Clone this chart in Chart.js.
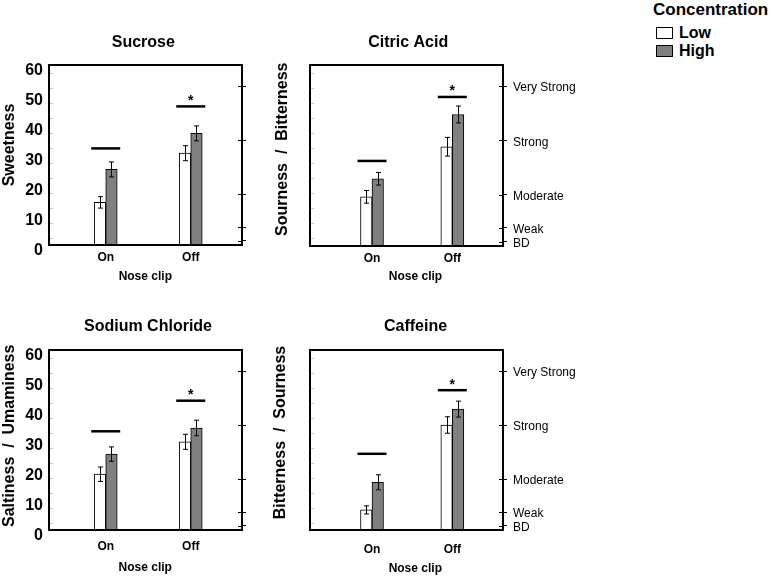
<!DOCTYPE html>
<html>
<head>
<meta charset="utf-8">
<script src="https://cdn.jsdelivr.net/npm/chart.js@4.4.1/dist/chart.umd.min.js"></script>
<style>
  html, body { margin: 0; padding: 0; background: #fff; }
  body { width: 771px; height: 577px; position: relative; overflow: hidden; font-family: "Liberation Sans", Arial, sans-serif; }
  canvas { position: absolute; display: block; }
  .lg { position: absolute; color: #000; font-weight: bold; white-space: nowrap; }
  .sw { position: absolute; box-sizing: border-box; border: 1px solid #000; width: 17px; height: 12px; }
</style>
</head>
<body>
<canvas id="c1" width="260" height="290" style="left:0px;top:0px"></canvas>
<canvas id="c2" width="330" height="290" style="left:260px;top:0px"></canvas>
<canvas id="c3" width="260" height="287" style="left:0px;top:290px"></canvas>
<canvas id="c4" width="330" height="287" style="left:260px;top:290px"></canvas>
<div id="legend"></div>
<script>
// ---------------- DATA ----------------
const categories = ['On', 'Off'];
const seriesNames = ['Low', 'High'];
const legendTitle = 'Concentration';
const xAxisTitle = 'Nose clip';

const leftTickValues = [0, 10, 20, 30, 40, 50, 60];
const gLMSValues = [1.4, 6, 17, 35, 53];
const gLMSLabels = ['BD', 'Weak', 'Moderate', 'Strong', 'Very Strong'];

// Sucrose
const sucroseLow = [14.2, 30.6];
const sucroseLowErr = [1.9, 2.5];
const sucroseHigh = [25.2, 37.2];
const sucroseHighErr = [2.5, 2.5];
const sucroseSig = [32.2, 46.2];
const sucroseStar = ['', '*'];

// Citric Acid
const citricLow = [16.3, 32.9];
const citricLowErr = [2.1, 3.1];
const citricHigh = [22.3, 43.6];
const citricHighErr = [2.1, 2.8];
const citricSig = [28.2, 49.4];
const citricStar = ['', '*'];

// Sodium Chloride
const saltLow = [18.6, 29.4];
const saltLowErr = [2.4, 2.5];
const saltHigh = [25.3, 34.0];
const saltHighErr = [2.4, 2.6];
const saltSig = [32.9, 43.1];
const saltStar = ['', '*'];

// Caffeine
const caffeineLow = [6.7, 35.0];
const caffeineLowErr = [1.35, 2.75];
const caffeineHigh = [15.9, 40.3];
const caffeineHighErr = [2.5, 2.65];
const caffeineSig = [25.4, 46.6];
const caffeineStar = ['', '*'];

// ---------------- STYLE ----------------
const FONT = '"Liberation Sans", Arial, Helvetica, sans-serif';
const LOW_COLOR = '#ffffff';
const HIGH_COLOR = '#808080';
Chart.defaults.font.family = FONT;
Chart.defaults.color = '#000';

function makePanel(id, p) {
  const plugin = {
    id: 'panelDeco' + id,
    afterDatasetsDraw(chart) {
      const ctx = chart.ctx;
      const a = chart.chartArea;
      const ys = chart.scales.y;
      const xs = chart.scales.x;
      ctx.save();
      // faint minor ticks on the inner left side
      ctx.strokeStyle = '#c4c4c4';
      ctx.lineWidth = 1;
      for (let k = 0; k < 12; k++) {
        const py = Math.round(ys.getPixelForValue(2.5 + 5 * k)) + 0.5;
        ctx.beginPath(); ctx.moveTo(a.left + 1, py); ctx.lineTo(a.left + 4, py); ctx.stroke();
      }
      // error bars
      ctx.strokeStyle = '#000';
      ctx.lineWidth = 1;
      const errs = [p.lowErr, p.highErr];
      const vals = [p.low, p.high];
      for (let d = 0; d < 2; d++) {
        const meta = chart.getDatasetMeta(d);
        meta.data.forEach((el, i) => {
          const cx = Math.round(el.x) + 0.5;
          const t = ys.getPixelForValue(vals[d][i] + errs[d][i]);
          const b = ys.getPixelForValue(vals[d][i] - errs[d][i]);
          ctx.beginPath();
          ctx.moveTo(cx, t); ctx.lineTo(cx, b);
          ctx.moveTo(cx - 2.5, t); ctx.lineTo(cx + 2.5, t);
          ctx.moveTo(cx - 2.5, b); ctx.lineTo(cx + 2.5, b);
          ctx.stroke();
        });
      }
      // significance lines and stars
      ctx.lineWidth = 2.5;
      ctx.fillStyle = '#000';
      ctx.font = 'bold 14px ' + FONT;
      ctx.textAlign = 'center';
      ctx.textBaseline = 'alphabetic';
      p.sig.forEach((v, i) => {
        const cx = xs.getPixelForValue(i);
        const py = ys.getPixelForValue(v);
        ctx.beginPath(); ctx.moveTo(cx - 14.5, py); ctx.lineTo(cx + 14.5, py); ctx.stroke();
        if (p.star[i]) ctx.fillText(p.star[i], cx, py - 1.5);
      });
      // frame
      ctx.lineWidth = 2;
      ctx.strokeRect(a.left, a.top, a.right - a.left, a.bottom - a.top);
      // inner part of right gLMS ticks
      ctx.lineWidth = 1;
      const rs = chart.scales.y2;
      rs.ticks.forEach(t => {
        const py = Math.round(rs.getPixelForValue(t.value)) + 0.5;
        ctx.beginPath(); ctx.moveTo(a.right - 4, py); ctx.lineTo(a.right, py); ctx.stroke();
      });
      ctx.restore();
    },
    afterDraw(chart) {
      const ctx = chart.ctx;
      ctx.save();
      ctx.fillStyle = '#000';
      ctx.textAlign = 'center';
      ctx.textBaseline = 'middle';
      ctx.font = 'bold 16px ' + FONT;
      ctx.fillText(p.title, p.titlePos[0], p.titlePos[1]);
      ctx.font = 'bold 12px ' + FONT;
      ctx.fillText(xAxisTitle, p.xTitlePos[0], p.xTitlePos[1]);
      ctx.translate(p.yTitlePos[0], p.yTitlePos[1]);
      ctx.rotate(-Math.PI / 2);
      ctx.font = 'bold 16px ' + FONT;
      ctx.fillText(p.yTitle, 0, 0);
      ctx.restore();
    }
  };

  return new Chart(document.getElementById(id), {
    type: 'bar',
    data: {
      datasets: [
        { label: seriesNames[0], data: p.low.map((v, i) => ({ x: i, y: v })),
          backgroundColor: LOW_COLOR, borderColor: '#000', borderWidth: 1, borderSkipped: false },
        { label: seriesNames[1], data: p.high.map((v, i) => ({ x: i, y: v })),
          backgroundColor: HIGH_COLOR, borderColor: '#000', borderWidth: 1, borderSkipped: false }
      ]
    },
    options: {
      responsive: false,
      animation: false,
      events: [],
      barThickness: 11.5,
      layout: { padding: { top: p.padTop, left: 0, right: 0, bottom: 0 } },
      plugins: { legend: { display: false }, title: { display: false }, tooltip: { enabled: false } },
      scales: {
        x: {
          type: 'linear', offset: false, min: p.xMin, max: p.xMax,
          afterBuildTicks: s => { s.ticks = categories.map((c, i) => ({ value: i })); },
          ticks: { callback: v => categories[Math.round(v)], autoSkip: false, maxRotation: 0,
                   font: { size: 12, weight: 'bold' }, color: '#000', padding: p.xLabelPad },
          grid: { display: false, drawTicks: false }, border: { display: false },
          afterFit: s => { s.height = p.xH; }
        },
        y: {
          type: 'linear', position: 'left', min: 0, max: 60,
          afterBuildTicks: s => { s.ticks = leftTickValues.map(v => ({ value: v })); },
          ticks: { display: p.showLeft, font: { size: 16, weight: 'bold' }, color: '#000', padding: 6, labelOffset: 6 },
          grid: { display: false, drawTicks: false }, border: { display: false },
          afterFit: s => { s.width = p.leftW; }
        },
        y2: {
          type: 'linear', position: 'right', min: 0, max: 60,
          afterBuildTicks: s => { s.ticks = gLMSValues.map(v => ({ value: v })); },
          ticks: { display: p.showRight, callback: (v, i) => gLMSLabels[i], font: { size: 12 },
                   color: '#000', padding: 6, labelOffset: 2, autoSkip: false },
          grid: { display: true, drawOnChartArea: false, drawTicks: true, tickLength: 4, color: '#000', lineWidth: 1 },
          border: { display: false },
          afterFit: s => { s.width = p.rightW; }
        }
      }
    },
    plugins: [plugin]
  });
}

makePanel('c1', {
  title: 'Sucrose', yTitle: 'Sweetness',
  low: sucroseLow, lowErr: sucroseLowErr, high: sucroseHigh, highErr: sucroseHighErr,
  sig: sucroseSig, star: sucroseStar, showLeft: true, showRight: false,
  leftW: 49, rightW: 18, padTop: 65, xH: 45, xMin: -0.667, xMax: 1.603, xLabelPad: 5.5,
  titlePos: [143.3, 43], yTitlePos: [9.5, 145], xTitlePos: [145.3, 276.5]
});
makePanel('c2', {
  title: 'Citric Acid', yTitle: 'Sourness  /  Bitterness',
  low: citricLow, lowErr: citricLowErr, high: citricHigh, highErr: citricHighErr,
  sig: citricSig, star: citricStar, showLeft: false, showRight: true,
  leftW: 50, rightW: 87, padTop: 65, xH: 44, xMin: -0.772, xMax: 1.631, xLabelPad: 5.5,
  titlePos: [148.2, 43], yTitlePos: [22.7, 149.2], xTitlePos: [155.5, 277]
});
makePanel('c3', {
  title: 'Sodium Chloride', yTitle: 'Saltiness  /  Umaminess',
  low: saltLow, lowErr: saltLowErr, high: saltHigh, highErr: saltHighErr,
  sig: saltSig, star: saltStar, showLeft: true, showRight: false,
  leftW: 49, rightW: 18, padTop: 60, xH: 47, xMin: -0.667, xMax: 1.603, xLabelPad: 9.5,
  titlePos: [148, 37], yTitlePos: [9.5, 145.8], xTitlePos: [145.2, 278]
});
makePanel('c4', {
  title: 'Caffeine', yTitle: 'Bitterness  /  Sourness',
  low: caffeineLow, lowErr: caffeineLowErr, high: caffeineHigh, highErr: caffeineHighErr,
  sig: caffeineSig, star: caffeineStar, showLeft: false, showRight: true,
  leftW: 50, rightW: 87, padTop: 60, xH: 47, xMin: -0.772, xMax: 1.631, xLabelPad: 12,
  titlePos: [155.5, 37], yTitlePos: [20.5, 142.5], xTitlePos: [155.3, 278.5]
});

// ---------------- LEGEND (HTML text) ----------------
(function () {
  const lg = document.getElementById('legend');
  const t = document.createElement('div');
  t.className = 'lg';
  t.style.cssText = 'left:653px;top:0px;font-size:17px;line-height:20px;';
  t.textContent = legendTitle;
  lg.appendChild(t);
  const colors = [LOW_COLOR, HIGH_COLOR];
  seriesNames.forEach((n, i) => {
    const top = 27 + i * 18;
    const sw = document.createElement('div');
    sw.className = 'sw';
    sw.style.cssText = 'left:656px;top:' + top + 'px;background:' + colors[i] + ';';
    lg.appendChild(sw);
    const tx = document.createElement('div');
    tx.className = 'lg';
    tx.style.cssText = 'left:679px;top:' + (top - 3) + 'px;font-size:16px;line-height:18px;';
    tx.textContent = n;
    lg.appendChild(tx);
  });
})();
</script>
</body>
</html>
